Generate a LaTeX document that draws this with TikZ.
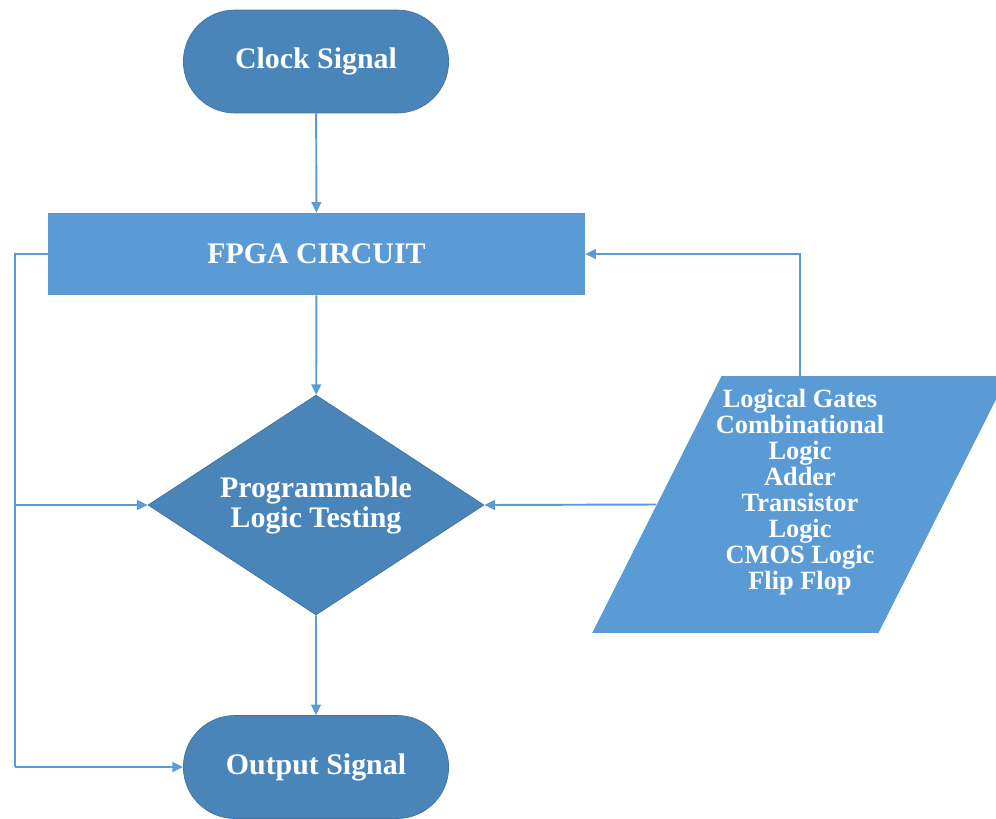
\documentclass[tikz,border=0pt]{standalone}
\usepackage{fontspec}
\setmainfont{Liberation Serif}
\usetikzlibrary{shapes.geometric,shapes.misc,arrows.meta}
\definecolor{termBlue}{HTML}{4A85BA}
\definecolor{boxBlue}{HTML}{5B9BD5}
\definecolor{edgeBlue}{HTML}{41719C}
\newcommand\termW{5.54cm}
\newcommand\termH{2.06cm}
\newcommand\loopX{15}
\newcommand\midX{316}

\tikzset{
  terminal/.style={rounded rectangle, fill=termBlue, draw=edgeBlue, line width=0.4pt,
    minimum width=\termW, minimum height=\termH, text=white,
    font=\fontsize{17}{17}\selectfont\bfseries},
  process/.style={rectangle, fill=boxBlue, minimum width=10.74cm, minimum height=1.64cm,
    text=white, font=\fontsize{17}{17}\selectfont\bfseries},
  decision/.style={diamond, fill=termBlue, draw=edgeBlue, line width=0.4pt, aspect=1.527,
    minimum width=6.72cm, minimum height=4.4cm, inner sep=0pt, align=center, text=white,
    font=\fontsize{17}{17}\selectfont\bfseries},
  inputbox/.style={trapezium, trapezium left angle=50.5, trapezium right angle=129.5,
    trapezium stretches=true, fill=boxBlue, minimum width=8.32cm, minimum height=5.14cm,
    inner sep=2pt},
  listtext/.style={align=center, text=white, font=\fontsize{15}{14.8}\selectfont\bfseries},
  link/.style={draw=boxBlue, line width=1.1pt, -{Triangle[length=6pt,width=5.5pt]}},
  wire/.style={draw=boxBlue, line width=1.1pt}
}

\begin{document}
\begin{tikzpicture}[x=0.02cm, y=-0.02cm]
    \useasboundingbox (0,0) rectangle (996,818);

    %% main column
    \node[terminal] (clock) at (\midX,61.5) {Clock Signal};
    \node[process] (fpga) at (316.5,254) {FPGA CIRCUIT};
    \node[decision] (test) at (\midX,505) {Programmable\\Logic Testing};
    \node[terminal] (out) at (\midX,767) {Output Signal};

    %% logic blocks fed back
    \node[inputbox] (blocks) at (800,504.5) {};
    \node[listtext] (blocklist) at (800,492) {Logical Gates\\Combinational\\Logic\\Adder\\Transistor\\Logic\\CMOS Logic\\Flip Flop};

    \draw[link] (clock) -- (fpga);
    \draw[link] (fpga) -- (test);
    \draw[link] (test) -- (out);

    %% right loop
    \coordinate (rtop) at (blocks.north |- fpga.east);
    \draw[link] (blocks.north) -- (rtop) -- (fpga.east);
    \draw[link] (blocks.west) -- (test.east);

    %% left loop
    \coordinate (ltop) at (\loopX,254);
    \coordinate (lmid) at (\loopX,505);
    \coordinate (lbot) at (\loopX,767);
    \draw[wire] (fpga.west) -- (ltop) -- (lbot);
    \draw[link] (lmid) -- (test.west);
    \draw[link] (lbot) -- (out.west);
\end{tikzpicture}
\end{document}
